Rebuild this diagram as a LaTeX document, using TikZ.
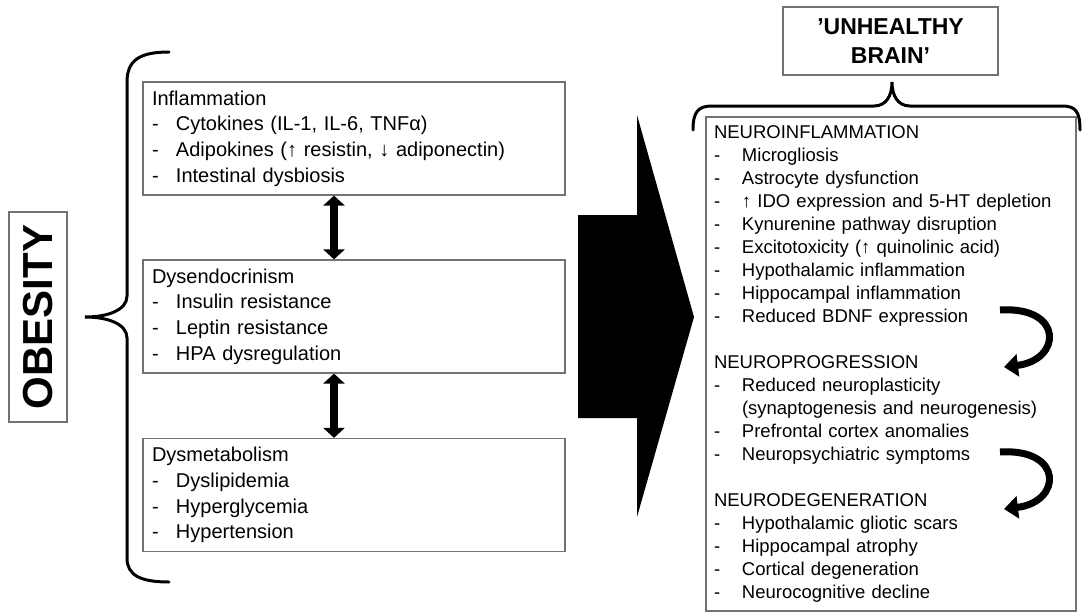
\documentclass[tikz,border=0pt]{standalone}
\usepackage{fontspec}
\setmainfont{Liberation Sans}
\usetikzlibrary{arrows.meta}
\newcommand{\litem}[1]{\makebox[24pt][l]{-}#1}
\newcommand{\ritem}[1]{\makebox[28pt][l]{-}#1}
\begin{document}
\begin{tikzpicture}[x=1pt,y=-1pt]
    \tikzset{
      causebox/.style={draw=black!55, line width=1.2pt, text width=404pt, align=left,
        inner xsep=9pt, inner ysep=0pt, minimum height=113pt,
        font=\fontsize{20}{25.7}\selectfont, text=black},
      brainbox/.style={draw=black!55, line width=1.2pt, text width=354pt, align=left,
        inner xsep=8pt, inner ysep=0pt, minimum height=494pt,
        font=\fontsize{18.5}{23}\selectfont, text=black},
      titlebox/.style={draw=black!55, line width=1.2pt, inner sep=0pt, text=black},
      dblarrow/.style={{Triangle[width=21pt,length=10pt]}-{Triangle[width=21pt,length=10pt]}, line width=8pt},
      bendarrow/.style={-{Triangle[width=22pt,length=14pt]}, line width=7pt},
      bracket/.style={line width=3pt, line cap=round}
    }
    \useasboundingbox (0,0) rectangle (1082,613);
    % left side
    \node[titlebox, rotate=90, minimum width=210pt, minimum height=58pt,
      font=\fontsize{42}{42}\selectfont\bfseries] (obes) at (38,317) {OBESITY};
    \node[causebox] (infl) at (354,138.5) {Inflammation\\
      \litem{Cytokines (IL-1, IL-6, TNFα)}\\
      \litem{Adipokines (↑ resistin, ↓ adiponectin)}\\
      \litem{Intestinal dysbiosis}};
    \node[causebox] (endo) at (354,316.5) {Dysendocrinism\\
      \litem{Insulin resistance}\\
      \litem{Leptin resistance}\\
      \litem{HPA dysregulation}};
    \node[causebox] (meta) at (354,495) {Dysmetabolism\\
      \litem{Dyslipidemia}\\
      \litem{Hyperglycemia}\\
      \litem{Hypertension}};
    \draw[dblarrow] ([xshift=-20pt]infl.south) -- ([xshift=-20pt]endo.north);
    \draw[dblarrow] ([xshift=-20pt]endo.south) -- ([xshift=-20pt]meta.north);
    \draw[bracket] (169,52) .. controls (140,52) and (127,60) .. (127,82) -- (127,296)
      .. controls (127,310) and (108,317) .. (85,317)
      .. controls (108,317) and (127,324) .. (127,338) -- (127,558)
      .. controls (127,575) and (140,582) .. (169,582);
    % big arrow
    \fill[black] (578,215) -- (637,215) -- (637,115) -- (694,317) -- (637,517)
      -- (637,418) -- (578,418) -- cycle;
    % right side
    \node[titlebox, minimum width=215pt, minimum height=68pt, align=center,
      font=\fontsize{23}{29}\selectfont\bfseries] (unbrain) at (890.5,41) {'UNHEALTHY\\BRAIN'};
    \draw[bracket] (693,130) .. controls (693,112) and (698,106) .. (712,106) -- (874,106)
      .. controls (886,106) and (892,96) .. (892,82)
      .. controls (892,96) and (898,106) .. (910,106) -- (1062,106)
      .. controls (1076,106) and (1080,112) .. (1080,130);
    \node[brainbox] (brain) at (891,364) {NEUROINFLAMMATION\\
      \ritem{Microgliosis}\\
      \ritem{Astrocyte dysfunction}\\
      \ritem{↑ IDO expression and 5-HT depletion}\\
      \ritem{Kynurenine pathway disruption}\\
      \ritem{Excitotoxicity (↑ quinolinic acid)}\\
      \ritem{Hypothalamic inflammation}\\
      \ritem{Hippocampal inflammation}\\
      \ritem{Reduced BDNF expression}\\[23pt]
      NEUROPROGRESSION\\
      \ritem{Reduced neuroplasticity}\\
      \hspace*{28pt}(synaptogenesis and neurogenesis)\\
      \ritem{Prefrontal cortex anomalies}\\
      \ritem{Neuropsychiatric symptoms}\\[23pt]
      NEURODEGENERATION\\
      \ritem{Hypothalamic gliotic scars}\\
      \ritem{Hippocampal atrophy}\\
      \ritem{Cortical degeneration}\\
      \ritem{Neurocognitive decline}};
    \coordinate (prog1) at (1000,310);
    \coordinate (prog2) at (1004,367);
    \coordinate (degen1) at (1000,452);
    \coordinate (degen2) at (1004,509);
    \draw[bendarrow] (prog1) .. controls (1064,306) and (1062,360) .. (prog2);
    \draw[bendarrow] (degen1) .. controls (1064,448) and (1062,502) .. (degen2);
    \end{tikzpicture}
\end{document}
